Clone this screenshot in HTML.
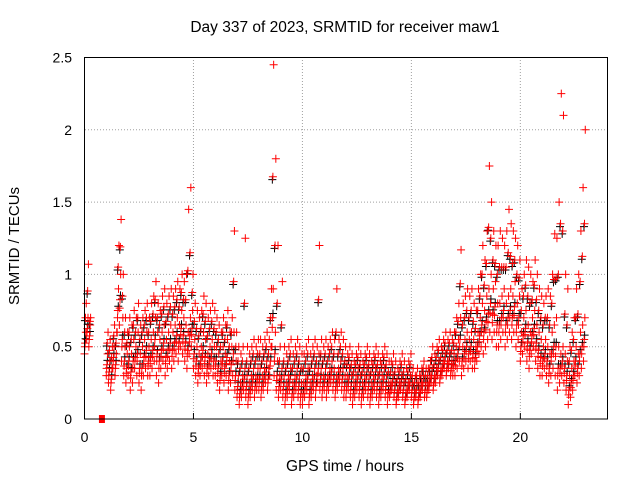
<!DOCTYPE html>
<html><head><meta charset="utf-8"><style>
body{margin:0;background:#fff;}
svg{display:block;font-family:"Liberation Sans",sans-serif;}
</style></head><body>
<svg id="chart" width="640" height="480">
<rect width="640" height="480" fill="#fff"/>
<text x="345" y="32" font-size="15.5" text-anchor="middle">Day 337 of 2023, SRMTID for receiver maw1</text>
<text x="345" y="471" font-size="15.5" text-anchor="middle">GPS time / hours</text>
<text transform="translate(19,246) rotate(-90)" font-size="15" text-anchor="middle">SRMTID / TECUs</text>
<g id="grid"></g><g id="ticks"></g><g id="black"></g><g id="red"></g>
<rect x="84.5" y="57.5" width="523" height="361.5" fill="none" stroke="#000"/>
</svg>
<script>
const xTicks=[0,5,10,15,20];
const yTicks=[0,0.5,1,1.5,2,2.5];
const yTickLabels=["0","0.5","1","1.5","2","2.5"];
const n=null;
const lowVals=[.45,.55,.5,n,n,n,n,n,n,n,
.3,.25,.2,.35,.3,.6,.65,.4,.3,.25,
.3,.2,.25,.35,.3,.25,.2,.3,.35,.3,
.3,.35,.4,.3,.25,.35,.4,.3,.35,.4,
.35,.4,.45,.4,.5,.45,.4,.35,.45,.5,
.35,.3,.25,.3,.35,.3,.25,.3,.35,.3,
.3,.25,.2,.3,.25,.3,.2,.25,.3,.2,
.15,.1,.15,.2,.15,.1,.15,.2,.15,.2,
.2,.15,.2,.25,.2,.3,.5,.3,.2,.15,
.2,.15,.1,.15,.2,.1,.15,.2,.15,.1,
.1,.15,.2,.1,.15,.2,.15,.25,.2,.15,
.2,.15,.2,.25,.2,.15,.2,.25,.2,.15,
.15,.2,.15,.1,.15,.2,.15,.1,.15,.2,
.15,.1,.15,.2,.15,.1,.15,.2,.15,.1,
.15,.2,.15,.1,.15,.2,.15,.1,.15,.2,
.15,.1,.15,.1,.15,.2,.15,.15,.2,.25,
.2,.25,.3,.25,.3,.35,.3,.35,.3,.3,
.3,.35,.4,.3,.35,.4,.35,.4,.35,.35,
.4,.45,.5,.45,.5,.55,.6,.55,.6,.5,
.5,.55,.6,.5,.55,.6,.55,.6,.5,.55,
.4,.45,.5,.4,.35,.45,.5,.4,.35,.3,
.3,.35,.3,.25,.3,.35,.3,.2,.25,.3,
.25,.2,.1,.15,.2,.3,.25,.3,.35,.4];
const midVals=[.6,.7,.65,n,n,n,n,n,n,n,
.45,.4,.35,.5,.45,.9,1.0,.7,.5,.45,
.5,.45,.55,.5,.6,.45,.5,.55,.6,.5,
.55,.6,.7,.6,.55,.6,.65,.55,.6,.65,
.6,.65,.7,.65,.75,.7,.65,.6,.7,.75,
.55,.5,.45,.5,.6,.55,.45,.5,.55,.5,
.5,.45,.4,.5,.45,.55,.4,.5,.6,.4,
.3,.25,.3,.35,.3,.25,.3,.35,.3,.35,
.35,.3,.35,.4,.35,.5,.9,.6,.4,.3,
.35,.3,.25,.3,.35,.25,.3,.35,.3,.25,
.25,.3,.35,.25,.3,.35,.3,.45,.35,.3,
.35,.3,.35,.4,.35,.3,.35,.4,.35,.3,
.3,.35,.3,.25,.3,.35,.3,.25,.3,.35,
.3,.25,.3,.35,.3,.25,.3,.35,.3,.25,
.25,.3,.25,.2,.25,.3,.25,.2,.25,.3,
.25,.2,.25,.2,.25,.3,.25,.25,.3,.35,
.3,.35,.4,.35,.4,.45,.4,.45,.4,.45,
.5,.55,.7,.5,.55,.6,.55,.6,.55,.5,
.6,.7,.8,.75,.85,.9,1.0,.9,.95,.8,
.8,.85,.9,.8,.85,.9,.85,.95,.8,.85,
.6,.7,.75,.65,.6,.7,.75,.65,.6,.55,
.5,.55,.5,.45,.6,.65,.7,.5,.45,.5,
.45,.4,.3,.35,.4,.5,.45,.6,.65,.7];
const highVals=[.8,1.07,.7,n,n,n,n,n,n,n,
.6,.55,.5,.65,.6,1.2,1.38,1.0,.7,.6,
.7,.65,.75,.7,.8,.65,.7,.75,.8,.7,
.8,.85,.95,.8,.75,.85,.9,.8,.85,.9,
.85,.9,.95,.9,1.0,.95,1.0,1.45,1.6,1.0,
.8,.75,.7,.75,.85,.8,.7,.75,.8,.75,
.7,.65,.6,.7,.65,.75,.6,.7,1.3,.6,
.5,.45,.5,1.25,.5,.45,.5,.55,.5,.55,
.55,.5,.55,.6,.55,.9,2.45,1.8,1.2,.5,
.95,.5,.45,.5,.55,.45,.5,.55,.5,.45,
.45,.5,.55,.45,.5,.55,.5,1.2,.55,.5,
.55,.5,.55,.6,.55,.9,.55,.6,.55,.5,
.45,.5,.45,.4,.45,.5,.45,.4,.45,.5,
.45,.4,.45,.5,.45,.4,.45,.5,.45,.4,
.4,.45,.4,.35,.4,.45,.4,.35,.4,.45,
.35,.3,.35,.3,.35,.4,.35,.35,.4,.5,
.45,.5,.55,.5,.55,.6,.55,.6,.55,.6,
.7,.8,1.17,.8,.85,.9,.85,.9,.8,.75,
.9,1.0,1.2,1.1,1.3,1.75,1.5,1.3,1.2,1.2,
1.3,1.25,1.2,1.3,1.45,1.35,1.3,1.25,1.2,1.1,
.9,1.0,1.1,1.05,1.0,.95,1.1,1.0,.9,.85,
.8,.85,.9,.85,1.0,1.28,1.25,1.5,2.25,2.1,
1.0,.9,.5,.6,.7,.9,1.0,1.3,1.6,2.0];
const timeStep=0.1;
const X0=84.5,XW=523,YB=419,YH=361.5;
function xs(t){return X0+t/24*XW;}
function ys(v){return YB-v/2.5*YH;}
const NS="http://www.w3.org/2000/svg";
function mk(tag,attrs,parent){const e=document.createElementNS(NS,tag);for(const k in attrs)e.setAttribute(k,attrs[k]);document.getElementById(parent).appendChild(e);return e;}
xTicks.forEach(t=>{
  const x=xs(t);
  if(t>0){const g=mk('line',{x1:x,x2:x,y1:57,y2:419,stroke:'#a0a0a0','stroke-dasharray':'1,2'},'grid');
  
  }
  const l=mk('text',{x:x,y:442,'font-size':14,'text-anchor':'middle'},'ticks');l.textContent=String(t);
  
  
  const k=mk('line',{x1:x,x2:x,y1:419,y2:413,stroke:'#000'},'ticks');
  
  
});
yTicks.forEach((v,i)=>{
  const y=ys(v);
  if(v>0&&v<2.5){const g=mk('line',{x1:85,x2:607,y1:y,y2:y,stroke:'#a0a0a0','stroke-dasharray':'1,2'},'grid');
  
  }
  const l=mk('text',{x:72,y:y+5,'font-size':14,'text-anchor':'end'},'ticks');l.textContent=yTickLabels[i];
  
  
});
function plus(t,v,color,g){
  if(v===null||v===undefined)return;
  const x=xs(t),y=ys(v);
  const p=mk('path',{d:`M${x-4},${y}h8M${x},${y-4}v8`,stroke:color,'stroke-width':1,fill:'none'},g);
  
  
}
for(let i=0;i<lowVals.length;i++){
  const t=i*timeStep,L=lowVals[i],M=midVals[i],H=highVals[i];
  if(L===null)continue;
  plus(t+0.05,(L+M)/2+0.03,'#000','black');
  plus(t+0.02,(M+H)/2-0.02,'#000','black');
  plus(t,L,'#f00','red');
  plus(t+0.03,(L+M)/2,'#f00','red');
  plus(t+0.06,M,'#f00','red');
  plus(t+0.045,(M+H)/2,'#f00','red');
  plus(t+0.08,H,'#f00','red');
  plus(t+0.015,(L*2+M)/3,'#f00','red');
}
const sq=mk('rect',{x:xs(0.8)-3,y:415,width:6,height:8,fill:'#f00'},'red');


</script>
</body></html>
